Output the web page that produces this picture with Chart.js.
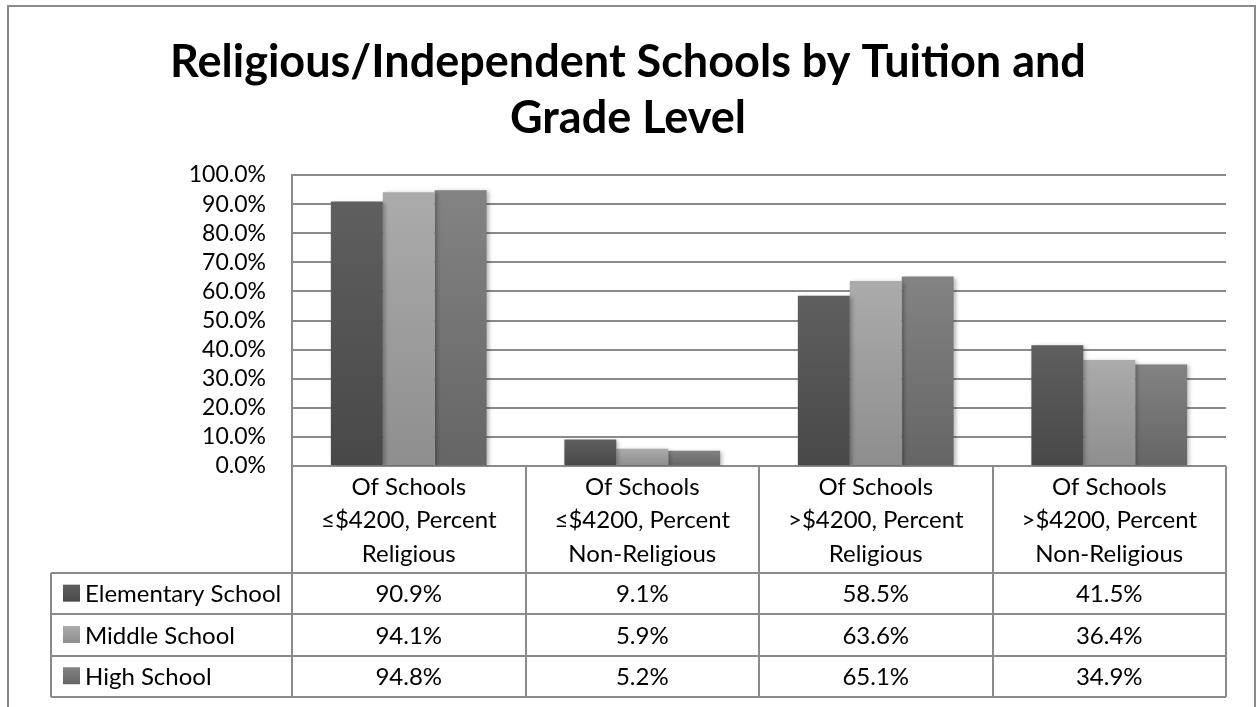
<!DOCTYPE html>
<html>
<head>
<meta charset="utf-8">
<script src="https://cdn.jsdelivr.net/npm/chart.js@4.4.1/dist/chart.umd.min.js"></script>
<style>
  html, body { margin: 0; padding: 0; background: #fff; }
  canvas { display: block; }
</style>
</head>
<body>
<canvas id="chart" width="1259" height="707"></canvas>
<script>
// ── Data ──────────────────────────────────────────────────────────────────────
const categories = [
    ['Of Schools', '≤$4200, Percent', 'Religious'],
    ['Of Schools', '≤$4200, Percent', 'Non-Religious'],
    ['Of Schools', '>$4200, Percent', 'Religious'],
    ['Of Schools', '>$4200, Percent', 'Non-Religious'],
];
const seriesNames = ['Elementary School', 'Middle School', 'High School'];
const elementary  = [90.9, 9.1, 58.5, 41.5];
const middle      = [94.1, 5.9, 63.6, 36.4];
const high        = [94.8, 5.2, 65.1, 34.9];
const yMin = 0, yMax = 100, yStep = 10;

// ── Look ──────────────────────────────────────────────────────────────────────
const FONT  = "Lato, 'Open Sans', sans-serif";
const LINE  = '#8a8a8a';
const SHADES = [            // [top, bottom] of each bar's gradient
    ['#5f5f5f', '#484848'],
    ['#ababab', '#8e8e8e'],
    ['#838383', '#656565'],
];
const TABLE_LEFT = 51, HEAD_H = 107, ROW_H = 41.3;

const fmtPct = v => v.toFixed(1) + '%';

function barGradient(c, i) {
    const chart = c.chart;
    if (!chart.chartArea || c.raw == null) return SHADES[i][1];
    const y = chart.scales.y;
    const top = y.getPixelForValue(c.raw), bot = y.getPixelForValue(0);
    const g = chart.ctx.createLinearGradient(0, top, 0, bot);
    g.addColorStop(0, SHADES[i][0]);
    g.addColorStop(1, SHADES[i][1]);
    return g;
}

function keyGradient(ctx, i, y0, h) {
    const g = ctx.createLinearGradient(0, y0, 0, y0 + h);
    g.addColorStop(0, SHADES[i][0]);
    g.addColorStop(1, SHADES[i][1]);
    return g;
}

// ── Plugins: frame, bar shadow, data table ────────────────────────────────────
const framePlugin = {
    id: 'frame',
    beforeDraw(chart) {
        const ctx = chart.ctx;
        ctx.save();
        ctx.strokeStyle = '#8a8a8a';
        ctx.lineWidth = 2;
        ctx.strokeRect(8, 6, 1247, 720);
        ctx.restore();
    }
};

const shadowPlugin = {
    id: 'barShadow',
    beforeDatasetsDraw(chart) {
        const ctx = chart.ctx;
        ctx.save();
        ctx.shadowColor = 'rgba(0,0,0,0.28)';
        ctx.shadowBlur = 4;
        ctx.shadowOffsetX = 2;
        ctx.shadowOffsetY = 1;
    },
    afterDatasetsDraw(chart) { chart.ctx.restore(); }
};

const tablePlugin = {
    id: 'dataTable',
    afterDraw(chart) {
        const ctx = chart.ctx, x = chart.scales.x, area = chart.chartArea;
        const n = chart.data.labels.length;
        const colW = (area.right - area.left) / n;
        const top = area.bottom, headBot = top + HEAD_H;
        const rows = chart.data.datasets.length;
        const bottom = headBot + rows * ROW_H;

        ctx.save();
        ctx.strokeStyle = LINE;
        ctx.lineWidth = 2;
        ctx.beginPath();
        // vertical lines
        for (let i = 0; i <= n; i++) {
            const px = Math.round(area.left + i * colW);
            ctx.moveTo(px, top); ctx.lineTo(px, bottom);
        }
        ctx.moveTo(TABLE_LEFT, headBot); ctx.lineTo(TABLE_LEFT, bottom);
        // horizontal lines
        for (let r = 0; r <= rows; r++) {
            const py = Math.round(headBot + r * ROW_H);
            ctx.moveTo(TABLE_LEFT, py); ctx.lineTo(area.right, py);
        }
        ctx.stroke();

        ctx.fillStyle = '#000';
        ctx.font = `24px ${FONT}`;
        ctx.textBaseline = 'middle';

        // header: category labels
        ctx.textAlign = 'center';
        chart.data.labels.forEach((lab, i) => {
            const cx = x.getPixelForValue(i);
            const lines = Array.isArray(lab) ? lab : [lab];
            const lh = 33.5, mid = (top + headBot) / 2;
            lines.forEach((t, k) => ctx.fillText(t, cx, mid + 1 + (k - (lines.length - 1) / 2) * lh));
        });

        // rows: legend key, name, values
        chart.data.datasets.forEach((ds, r) => {
            const cy = headBot + r * ROW_H + ROW_H / 2;
            ctx.fillStyle = keyGradient(ctx, r, cy - 9, 17);
            ctx.fillRect(63, cy - 9, 17, 17);
            ctx.fillStyle = '#000';
            ctx.textAlign = 'left';
            ctx.fillText(ds.label, 85, cy + 1);
            ctx.textAlign = 'center';
            ds.data.forEach((v, i) => ctx.fillText(fmtPct(v), x.getPixelForValue(i), cy + 1));
        });
        ctx.restore();
    }
};

// ── Chart ─────────────────────────────────────────────────────────────────────
const seriesData = [elementary, middle, high];

new Chart(document.getElementById('chart'), {
    type: 'bar',
    data: {
        labels: categories,
        datasets: seriesData.map((d, i) => ({
            label: seriesNames[i],
            data: d,
            backgroundColor: c => barGradient(c, i),
            borderWidth: 0,
            barPercentage: 1,
            categoryPercentage: 0.667,
        }))
    },
    options: {
        responsive: false,
        animation: false,
        layout: { padding: { top: 6, right: 3, bottom: 241, left: 0 } },
        plugins: {
            legend: { display: false },
            tooltip: { enabled: false },
            title: {
                display: true,
                text: ['Religious/Independent Schools by Tuition and', 'Grade Level'],
                color: '#000',
                font: { family: FONT, size: 45, weight: 'bold', lineHeight: 1.245 },
                padding: { top: 28, bottom: 29 },
            }
        },
        scales: {
            x: { display: false },
            y: {
                min: yMin, max: yMax,
                afterFit: s => { s.width = 292; },
                border: { display: true, color: LINE, width: 2 },
                grid: { color: LINE, lineWidth: 2, drawTicks: false },
                ticks: {
                    stepSize: yStep, padding: 26, color: '#000', autoSkip: false,
                    font: { family: FONT, size: 23 },
                    callback: v => fmtPct(v),
                }
            },
            // empty spacer on the right so the plot ends short of the frame
            yr: {
                position: 'right', min: yMin, max: yMax,
                afterFit: s => { s.width = 30; },
                grid: { display: false }, border: { display: false },
                ticks: { display: false },
            }
        }
    },
    plugins: [framePlugin, shadowPlugin, tablePlugin]
});
</script>
</body>
</html>
